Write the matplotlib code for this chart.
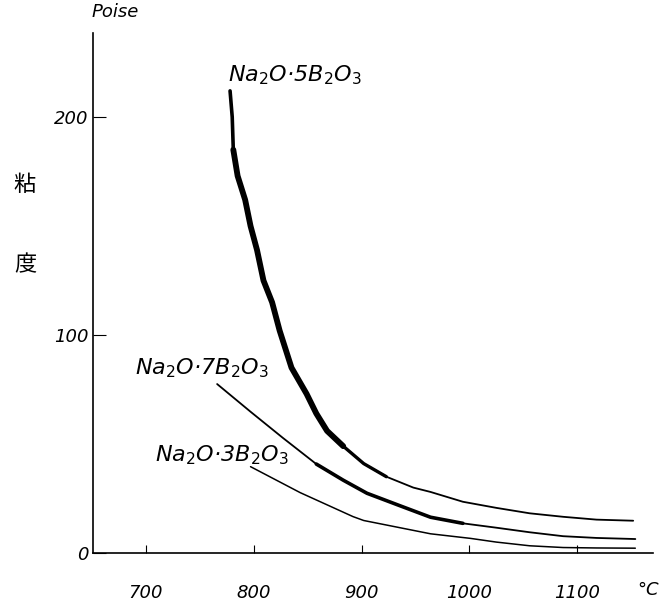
import matplotlib
matplotlib.use("Agg")
import matplotlib.pyplot as plt

# viscosity of sodium borate melts (poise) vs temperature (deg C)
temp_5 = [778, 780, 781, 785, 792, 797, 803, 809, 817, 824, 835, 849, 858, 868,
          883, 902, 923, 948, 964, 994, 1025, 1056, 1087, 1118, 1152]
visc_5 = [212, 200, 185, 173, 162, 150, 139, 125, 115, 102, 85, 73, 64, 56,
          49, 41, 35, 30, 28, 23.5, 20.7, 18.2, 16.6, 15.3, 14.8]

temp_7 = [766, 797, 827, 858, 883, 905, 936, 964, 994, 1025, 1056, 1087, 1118, 1154]
visc_7 = [77.5, 64.8, 52.8, 40.8, 33.4, 27.4, 21.6, 16.4, 13.6, 11.6, 9.5, 7.7, 6.9, 6.4]

temp_3 = [797, 843, 892, 902, 964, 1001, 1025, 1056, 1087, 1118, 1154]
visc_3 = [39.6, 27.7, 16.7, 14.9, 8.8, 6.7, 5.0, 3.3, 2.5, 2.3, 2.2]

x_ticks = [700, 800, 900, 1000, 1100]
y_ticks = [0, 100, 200]

LABEL_FONT = dict(fontsize=13, style="italic", family="DejaVu Sans")
CJK = ["Noto Sans CJK JP", "DejaVu Sans"]
PEN = dict(color="black", solid_capstyle="round", solid_joinstyle="round")

fig = plt.figure(figsize=(6.65, 6.01), dpi=100)
ax = fig.add_axes([0.1398, 0.0799, 0.842, 0.865])

# thin full curves
ax.plot(temp_5, visc_5, lw=1.3, **PEN)
ax.plot(temp_7, visc_7, lw=1.3, **PEN)
ax.plot(temp_3, visc_3, lw=1.1, **PEN)
# heavier pen strokes
ax.plot(temp_5[:3], visc_5[:3], lw=2.6, **PEN)
ax.plot(temp_5[2:15], visc_5[2:15], lw=4.2, **PEN)
ax.plot(temp_5[14:17], visc_5[14:17], lw=2.4, **PEN)
ax.plot(temp_7[3:9], visc_7[3:9], lw=2.6, **PEN)

ax.set_xlim(650.8, 1170.3)
ax.set_ylim(0, 238.5)
for side in ("top", "right"):
    ax.spines[side].set_visible(False)
for side in ("left", "bottom"):
    ax.spines[side].set_linewidth(1.2)

ax.set_xticks(x_ticks)
ax.set_xticklabels([str(t) for t in x_ticks], **LABEL_FONT)
ax.set_yticks(y_ticks)
ax.set_yticklabels([str(t) for t in y_ticks], **LABEL_FONT)
ax.tick_params(axis="x", direction="in", length=6, pad=22)
ax.tick_params(axis="y", direction="in", length=9, pad=3)

# curve labels
ax.text(776, 219, "Na$_2$O·5B$_2$O$_3$", fontsize=16, style="italic", va="center", ha="left")
ax.text(690, 85, "Na$_2$O·7B$_2$O$_3$", fontsize=16, style="italic", va="center", ha="left")
ax.text(708, 45, "Na$_2$O·3B$_2$O$_3$", fontsize=16, style="italic", va="center", ha="left")

# axis titles
ax.text(1166, -0.071, "°C", transform=ax.get_xaxis_transform(),
        ha="center", va="center", **LABEL_FONT)
fig.text(115 / 665, 1 - 12 / 601, "Poise", ha="center", va="center", **LABEL_FONT)
fig.text(25 / 665, 1 - 185 / 601, "粘", ha="center", va="center", fontsize=16, family=CJK)
fig.text(25 / 665, 1 - 265 / 601, "度", ha="center", va="center", fontsize=16, family=CJK)

fig.savefig("out.png", dpi=100)
